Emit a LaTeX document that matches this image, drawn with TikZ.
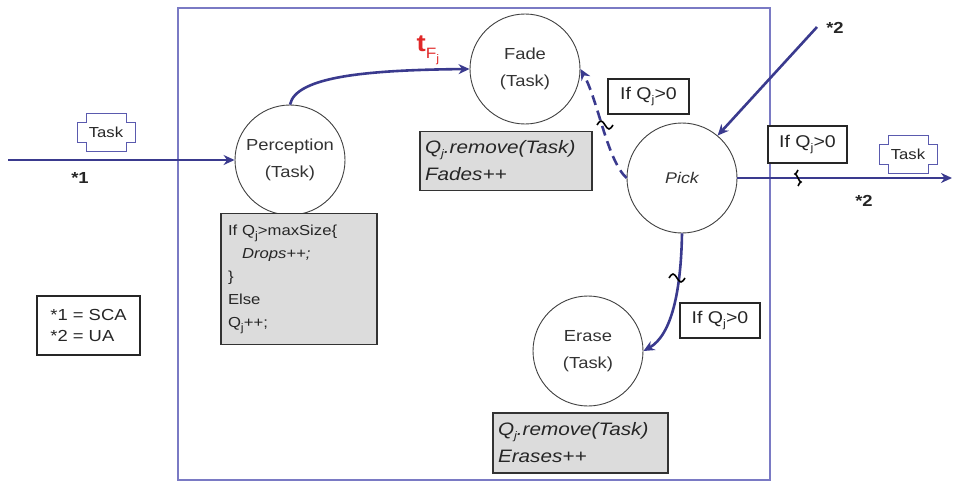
\documentclass[tikz,border=0pt]{standalone}
\usepackage{fontspec}
\setmainfont[FakeStretch=1.15]{Liberation Sans}
\usetikzlibrary{arrows.meta}
\newcommand\Qj{Q\raisebox{-4pt}{\fontsize{11}{11}\selectfont j}}
\definecolor{navy}{HTML}{3A3A8E}
\definecolor{framec}{HTML}{7A7AC4}
\definecolor{taskc}{HTML}{5A5AAE}
\definecolor{boxgray}{HTML}{DCDCDC}
\definecolor{redlab}{HTML}{E02828}
\tikzset{
  state/.style={circle,draw=black!75,line width=0.9pt,minimum size=110pt,inner sep=0pt,align=center,font=\fontsize{16}{27}\selectfont,text=black!80},
  codebox/.style={draw=black!80,line width=1.4pt,fill=boxgray,inner sep=0pt,align=left,text=black!85},
  condbox/.style={draw=black!85,line width=1.4pt,fill=white,inner sep=0pt,font=\fontsize{17}{18}\selectfont,text=black!85},
  conn/.style={draw=navy,line width=2.6pt,-{Stealth[length=11pt,width=10pt]}},
  dconn/.style={conn,dash pattern=on 10pt off 6pt},
  frameline/.style={draw=framec,line width=1.1pt},
  taskline/.style={draw=taskc,line width=0.9pt},
  tasklab/.style={font=\fontsize{14.5}{14.5}\selectfont,text=black!85},
  lab/.style={font=\fontsize{16}{16}\selectfont\bfseries,text=black!85},
  tick/.style={draw=black,line width=1.6pt},
}
\begin{document}
\begin{tikzpicture}[x=1pt,y=-1pt]
\useasboundingbox (0,0) rectangle (955,487);
% frame
\draw[frameline] (178,8) rectangle (770,480);
% states
\node[state] (perc) at (290,160) {Perception\\(Task)};
\node[state] (fade) at (525,69) {Fade\\(Task)};
\node[state,font=\fontsize{15.5}{18}\selectfont\itshape] (pick) at (682,178) {Pick};
\node[state] (erase) at (588,351) {Erase\\(Task)};
% code boxes
\node[codebox,minimum width=156pt,minimum height=131pt,text width=142pt,font=\fontsize{14.5}{23}\selectfont] (percbox) at (299,279)
  {If \Qj>maxSize\{\\\hspace*{14pt}{\itshape Drops++;}\\\}\\Else\\\Qj++;};
\node[codebox,minimum width=172pt,minimum height=59pt,text width=162pt,font=\fontsize{18}{27}\selectfont\itshape] (fadebox) at (506,161)
  {\Qj.remove(Task)\\Fades++};
\node[codebox,minimum width=175pt,minimum height=60pt,text width=165pt,font=\fontsize{18}{27}\selectfont\itshape] (erasebox) at (580.5,443)
  {\Qj.remove(Task)\\Erases++};
% condition boxes
\node[condbox,minimum width=81pt,minimum height=35pt] (condA) at (648.5,96.5) {If \Qj>0};
\node[condbox,minimum width=79pt,minimum height=37pt] (condB) at (807.5,144.5) {If \Qj>0};
\node[condbox,minimum width=80pt,minimum height=35pt] (condC) at (720,320.5) {If \Qj>0};
% legend
\node[draw=black!85,line width=1.4pt,minimum width=103pt,minimum height=59pt,inner sep=0pt,align=left,font=\fontsize{16}{21}\selectfont,text=black!85] (legend) at (88.5,325.5) {*1 = SCA\\*2 = UA};
% connectors
\coordinate (in1) at (8,160);
\coordinate (in2) at (817,27);
\coordinate (out2) at (952,178);
\draw[conn] (in1) -- (perc.west);
\draw[conn] (perc.north) .. controls (296,76) and (370,70) .. (fade.west);
\draw[dconn] (pick.west) .. controls (607,160) and (598,100) .. (fade.east);
\draw[conn] (in2) -- (pick.50);
\draw[conn] (pick.east) -- (out2);
\draw[conn] (pick.south) .. controls (681,290) and (672,335) .. (erase.east);
% ticks
\draw[tick] (597,125) sin (601,121) cos (605,125) sin (609,129) cos (613,125);
\draw[tick] (669,278) sin (673,274) cos (677,278) sin (681,282) cos (685,278);
\draw[tick] (798,170) sin (795,174) cos (798,178) sin (801,182) cos (798,186);
% task tokens
\node[tasklab] (task1) at (106,132) {Task};
\node[tasklab] (task2) at (908,154) {Task};
\foreach \t in {task1,task2}{
\begin{scope}[shift={(\t.center)}]
\draw[taskline] (-20,-19) -- (20,-19) -- (20,-10) -- (29,-10) -- (29,10) -- (20,10) -- (20,19) -- (-20,19) -- (-20,10) -- (-29,10) -- (-29,-10) -- (-20,-10) -- cycle;
\end{scope}}
% labels
\node[lab] (s1) at (80,178) {*1};
\node[lab] (s2a) at (835,28) {*2};
\node[lab] (s2b) at (864,201) {*2};
\node[text=redlab,inner sep=0pt] (tf) at (428,50) {{\fontsize{24}{24}\selectfont\bfseries t}\raisebox{-7pt}{\fontsize{15}{15}\selectfont F\raisebox{-4pt}{\fontsize{11}{11}\selectfont j}}};
\end{tikzpicture}
\end{document}
